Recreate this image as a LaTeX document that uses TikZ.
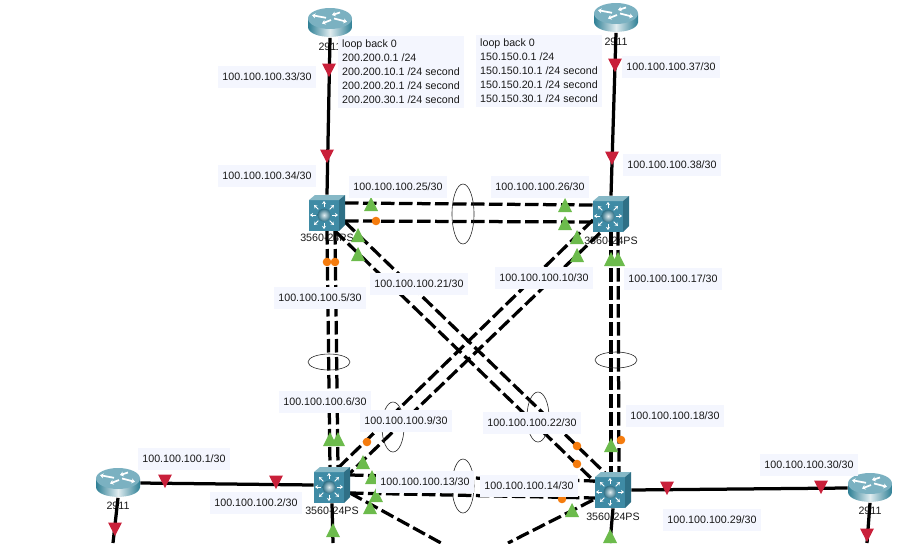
\documentclass[tikz,border=0pt]{standalone}
\usepackage{fontspec}
\setmainfont{Liberation Sans}
\usepackage{xcolor}
\usetikzlibrary{arrows.meta,calc}
\definecolor{lblbg}{HTML}{F4F6FE}
\definecolor{marcared}{HTML}{C9203A}
\definecolor{marcagreen}{HTML}{6CBB4C}
\definecolor{marcaorange}{HTML}{F57C0E}
\definecolor{tealface}{HTML}{3F8BA5}
\definecolor{tealtop}{HTML}{86B8C6}
\definecolor{tealside}{HTML}{2F7086}
\definecolor{tealdark}{HTML}{2E7F95}
\tikzset{
  solido/.style={line width=0.65mm,black},
  troncal/.style={line width=0.65mm,black,dash pattern=on 2.7mm off 0.9mm},
  anillo/.style={draw=black!85,line width=0.12mm},
  ip/.style={fill=lblbg,inner xsep=0.8mm,inner ysep=0pt,minimum height=4.4mm,font=\fontsize{6.08}{7.94}\selectfont,text=black!90},
  caja/.style={fill=lblbg,inner xsep=0.8mm,inner ysep=0.9mm,align=left,font=\fontsize{6.08}{7.94}\selectfont,text=black!90},
  devtxt/.style={inner sep=0pt,font=\fontsize{6.08}{7.94}\selectfont,text=black!90},
  rt/.style={minimum width=8.8mm,minimum height=5.8mm,inner sep=0pt},
  sw/.style={minimum width=7.2mm,minimum height=7.2mm,inner sep=0pt},
  rojo/.pic={\fill[marcared] (-7,-6.5) -- (7,-6.5) -- (0,7) -- cycle;},
  verde/.pic={\fill[marcagreen] (-7,7) -- (7,7) -- (0,-7) -- cycle;},
  naranja/.pic={\fill[marcaorange] (0,0) circle (4.3);},
  routericon/.pic={
    \shade[left color=tealdark,right color=tealdark,middle color=white!85!tealdark]
      (-22,-4.5) -- (-22,4.5) .. controls (-20,17) and (20,17) .. (22,4.5) -- (22,-4.5) -- cycle;
    \fill[tealtop!85!tealface] (0,-4.5) ellipse (22 and 10.5);
    \foreach \a/\b/\c/\d in {-18/-7.8/-4/-5.2,-8/0.5/1/-3,2/-8/10/-10.5,17/-1.2/4/-4.5}{
      \draw[white,line width=0.35mm,-{Stealth[length=0.7mm,width=1mm]}] (\c,\d) -- (\a,\b);}
  },
  switchicon/.pic={
    \fill[tealface] (-18,-13) rectangle (12,18);
    \fill[tealtop] (-18,-13) -- (-12,-18) -- (18,-18) -- (12,-13) -- cycle;
    \fill[tealside] (12,-13) -- (18,-18) -- (18,12) -- (12,18) -- cycle;
    \foreach \a in {0,45,...,315}{
      \draw[white,line width=0.2mm,-{Stealth[length=0.6mm,width=0.8mm]}] ($(-3,2)+(\a:8)$) -- ($(-3,2)+(\a:14)$);}
    \shade[inner color=white!75!tealtop,outer color=tealside] (-3,2) circle (6.5);
  }
}

\begin{document}
\begin{tikzpicture}[x=0.2mm,y=-0.2mm]
\useasboundingbox (0,0) rectangle (913,543);
% equipos
\node[rt] (ra) at (330,23) {};
\node[rt] (rb) at (616,18) {};
\node[rt] (rc) at (118,483) {};
\node[rt] (rd) at (870,488) {};
\node[sw] (swa) at (327,213) {};
\node[sw] (swb) at (611,214) {};
\node[sw] (swc) at (332,485) {};
\node[sw] (swd) at (613,490) {};
\coordinate (rcbajo) at (113,543);
\coordinate (rdbajo) at (867,543);
\coordinate (swcbajo) at (333,543);
\coordinate (swdbajo) at (610,543);
\coordinate (cdiag) at (441,543);
\coordinate (ddiag) at (508,543);

\foreach \n/\t in {ra/24,rb/24,rc/23,rd/23}{
  \node[devtxt] (\n txt) at ($(\n)+(0,\t)$) {2911};}
\foreach \n/\t in {swa/25,swb/27,swc/26,swd/27}{
  \node[devtxt] (\n txt) at ($(\n)+(0,\t)$) {3560-24PS};}

% enlaces
\draw[solido] (ra.south) -- (swa.north);
\draw[solido] (rb.south) -- (swb.north);
\draw[solido] (rc.east) -- (swc.west);
\draw[solido] (swd.east) -- (rd.west);
\draw[solido] (rc.south) -- (rcbajo);
\draw[solido] (rd.south) -- (rdbajo);
\draw[solido] (swc.south) -- (swcbajo);
\draw[solido] (swd.south) -- (swdbajo);
\foreach \a/\ax/\ay/\b/\bx/\by in {swa/18/-10/swb/-18/-9,swa/18/8/swb/-18/8,
  swa/0/18/swc/-2/-18,swa/8/18/swc/6/-18,swb/0/18/swd/-2/-17,swb/7/18/swd/6/-17,
  swa/18/9/swd/-8/-17,swa/8/18/swd/-18/-8,swb/-18/6/swc/7/-18,swb/-11/19/swc/18/-12,
  swc/18/-10/swd/-18/-9,swc/18/8/swd/-18/8}{
  \draw[troncal] ($(\a)+(\ax,\ay)$) -- ($(\b)+(\bx,\by)$);}
\draw[troncal] ($(swc)+(18,8)$) -- (cdiag);
\draw[troncal] ($(swd)+(-20,10)$) -- (ddiag);

\foreach \n in {ra,rb,rc,rd}{\pic at (\n) {routericon};}
\foreach \n in {swa,swb,swc,swd}{\pic at (\n) {switchicon};}

% etherchannel
\foreach \x/\y/\rx/\ry in {463/214/11/30,329/362/21/8,616/360/21/8,538/417/11/25,393/427/11/25,463/486/11/27}{
  \draw[anillo] (\x,\y) ellipse ({\rx} and {\ry});}

% estados de puerto
\foreach \x/\y in {329/70,327/156,615/65,612/158,165/481,276/482,667/488,821/487,115/529,867/535}{
  \pic at (\x,\y) {rojo};}
\foreach \x/\y in {371/204,565/205,565/223,358/235,358/254,577/237,577/255,330/439,338/439,
  611/259,618/259,611/445,363/462,372/477,376/495,370/507,572/510,333/530,610/536}{
  \pic at (\x,\y) {verde};}
\foreach \x/\y in {376/221,327/262,335/262,367/442,577/446,577/464,621/440,562/499}{
  \pic at (\x,\y) {naranja};}

% direcciones
\foreach \n/\x/\y in {33/267/77,34/267/176,25/398/187,26/540/187,37/671/67,38/672/165,
  21/419/284,10/544/278,17/673/279,5/320/298,6/325/402,9/406/421,13/425/482,14/529/486,
  22/532/423,18/675/416,1/184/459,2/256/503,30/809/465,29/712/520}{
  \node[ip] (ip\n) at (\x,\y) {100.100.100.\n/30};}

\node[caja] (lba) at (401,72) {loop back 0\\200.200.0.1 /24\\200.200.10.1 /24 second\\200.200.20.1 /24 second\\200.200.30.1 /24 second};
\node[caja] (lbb) at (539,71) {loop back 0\\150.150.0.1 /24\\150.150.10.1 /24 second\\150.150.20.1 /24 second\\150.150.30.1 /24 second};
\end{tikzpicture}
\end{document}
